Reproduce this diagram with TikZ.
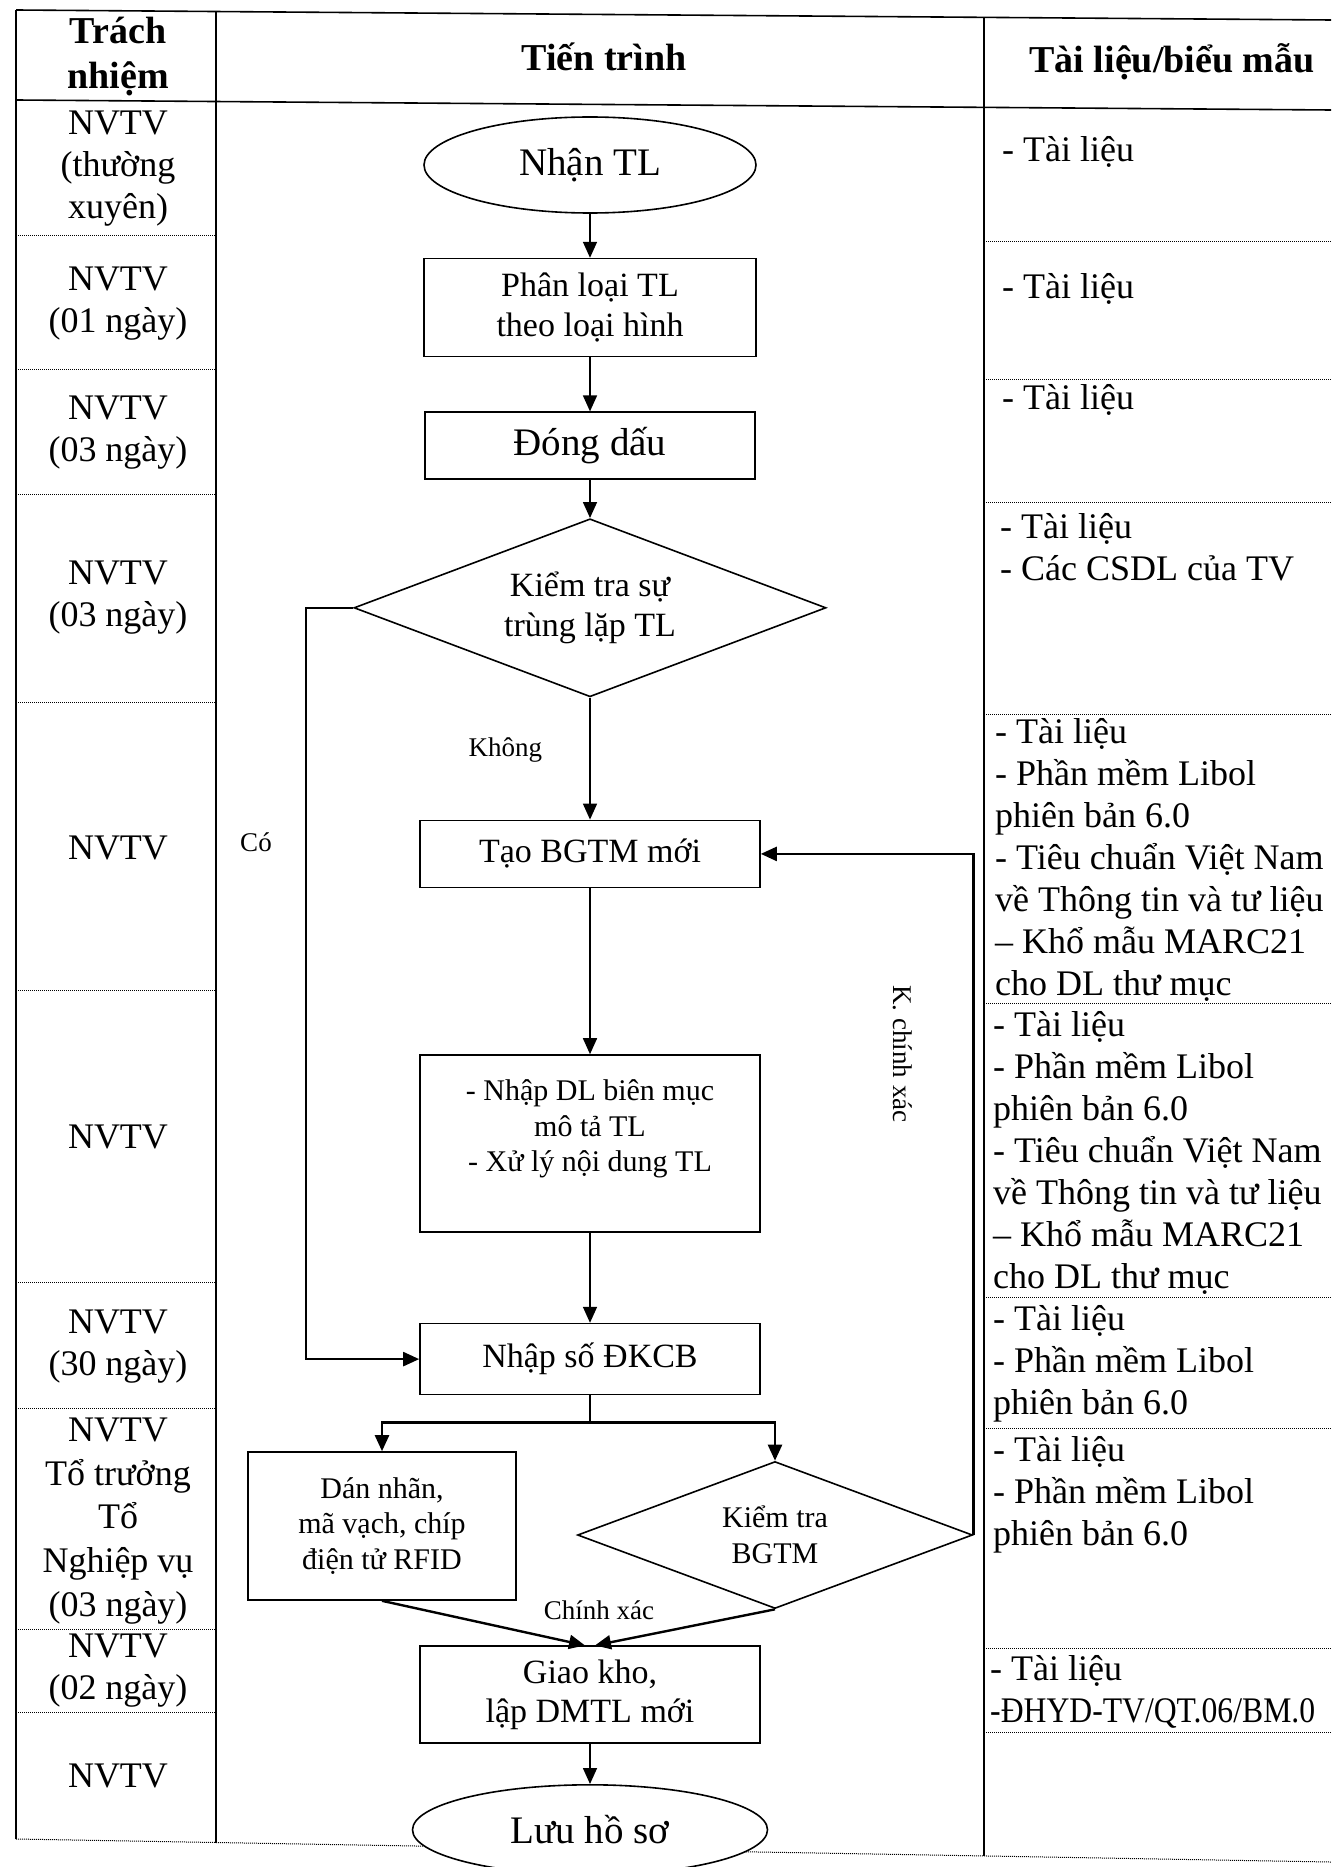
\documentclass[tikz,border=0pt]{standalone}
\usepackage{fontspec}
\setmainfont{Liberation Serif}
\newfontfamily\narrowserif[FakeStretch=0.88]{Liberation Serif}
\usetikzlibrary{shapes.geometric, arrows.meta, positioning, calc}

\tikzset{
    tablerule/.style={line width=1.6pt},
    rowrule/.style={line width=1pt, dash pattern=on 1pt off 1pt},
    flow/.style={
        -{Triangle[length=16pt, width=14pt]},
        line width=1.6pt
    },
    flowbold/.style={
        flow,
        line width=2.4pt
    }
}

\begin{document}
\begin{tikzpicture}[
    x=1pt, y=-1pt,
    every node/.style={inner sep=0pt},
    head/.style={font=\fontsize{38}{45}\selectfont\bfseries, align=center},
    duty/.style={font=\fontsize{36}{42}\selectfont, align=center},
    docs/.style={font=\fontsize{36}{42}\selectfont, align=left, anchor=west},
    terminal/.style={ellipse, draw, line width=1.6pt, fill=white, minimum width=332pt, minimum height=96pt, font=\fontsize{39}{45}\selectfont},
    stepbox/.style={rectangle, draw, line width=1.6pt, minimum width=340pt, align=center, font=\fontsize{34}{39.5}\selectfont},
    smallbox/.style={stepbox, font=\fontsize{30}{35.5}\selectfont},
    decision/.style={diamond, aspect=2.65, draw, line width=1.6pt, align=center, font=\fontsize{34}{39.5}\selectfont},
    note/.style={font=\fontsize{27}{32}\selectfont},
]
\useasboundingbox (0,0) rectangle (1331,1867);
\clip (0,0) rectangle (1331,1867);

% ====== TABLE FRAME ======
\draw[tablerule] (16,10) -- (1331,20);
\draw[tablerule] (16,100) -- (1331,110);
\draw[rowrule] (16,1839) -- (1331,1862);
\draw[tablerule] (16,10) -- (16,1839);
\draw[tablerule] (216,11.5) -- (216,1842.5);
\draw[tablerule] (984,17.4) -- (984,1856);

% --- dotted row rules ---
\foreach \y in {236,369,494,702,990,1282,1408,1629,1712}
    \draw[rowrule] (16,\y) -- (216,\y);
\foreach \y in {242,379,502,714,1003,1297,1428,1648,1732}
    \draw[rowrule] (984,\y) -- (1331,\y);

% --- headers ---
\node[head] (hduty) at (118,57) {Trách\\nhiệm};
\node[head] (hflow) at (604,57) {Tiến trình};
\node[head] (hdocs) at (1172,62) {Tài liệu/biểu mẫu};

% ====== LEFT PART: RESPONSIBILITY ======
\node[duty] (duty1) at (118,169) {NVTV\\(thường\\xuyên)};
\node[duty] (duty2) at (118,304) {NVTV\\(01 ngày)};
\node[duty] (duty3) at (118,433) {NVTV\\(03 ngày)};
\node[duty] (duty4) at (118,598) {NVTV\\(03 ngày)};
\node[duty] (duty5) at (118,848) {NVTV};
\node[duty] (duty6) at (118,1137) {NVTV};
\node[duty] (duty7) at (118,1347) {NVTV\\(30 ngày)};
\node[duty, font=\fontsize{36}{43.75}\selectfont] (duty8) at (118,1521) {NVTV\\Tổ trưởng\\Tổ\\Nghiệp vụ\\(03 ngày)};
\node[duty] (duty9) at (118,1671) {NVTV\\(02 ngày)};
\node[duty] (duty10) at (118,1776) {NVTV};

% ====== RIGHT PART: DOCUMENTS ======
\begin{scope}
\clip (984,0) rectangle (1322,1867);
\node[docs] (docs1) at (1002,152) {- Tài liệu};
\node[docs] (docs2) at (1002,289) {- Tài liệu};
\node[docs] (docs3) at (1002,400) {- Tài liệu};
\node[docs] (docs4) at (1000,547) {- Tài liệu\\- Các CSDL của TV};
\node[docs] (docs5) at (995,860) {- Tài liệu\\- Phần mềm Libol\\phiên bản 6.0\\- Tiêu chuẩn Việt Nam\\về Thông tin và tư liệu\\– Khổ mẫu MARC21\\cho DL thư mục};
\node[docs] (docs6) at (993,1153) {- Tài liệu\\- Phần mềm Libol\\phiên bản 6.0\\- Tiêu chuẩn Việt Nam\\về Thông tin và tư liệu\\– Khổ mẫu MARC21\\cho DL thư mục};
\node[docs] (docs7) at (993,1364) {- Tài liệu\\- Phần mềm Libol\\phiên bản 6.0};
\node[docs] (docs8) at (993,1495) {- Tài liệu\\- Phần mềm Libol\\phiên bản 6.0};
\node[docs] (docs9) at (990,1692) {- Tài liệu\\{\narrowserif -ĐHYD-TV/QT.06/BM.0}};
\end{scope}

% ====== MIDDLE PART: PROCESS FLOW ======
\node[terminal] (recv) at (590,165) {Nhận TL};
\node[stepbox, minimum width=332pt, minimum height=98pt, below=44pt of recv] (sort) {Phân loại TL\\theo loại hình};
\node[stepbox, minimum width=330pt, minimum height=67pt, font=\fontsize{39}{45}\selectfont, below=54pt of sort] (stamp) {Đóng dấu};
\node[decision, minimum width=472pt, minimum height=178pt, below=38pt of stamp] (dup) {Kiểm tra sự\\trùng lặp TL};
\node[stepbox, minimum height=67pt, below=122pt of dup] (newrec) {Tạo BGTM mới};
\node[smallbox, minimum height=177pt, below=166pt of newrec] (catalog) {- Nhập DL biên mục\\mô tả TL\\- Xử lý nội dung TL\\\mbox{}};
\node[stepbox, minimum height=71pt, below=90pt of catalog] (regno) {Nhập số ĐKCB};
\node[smallbox, minimum width=268pt, minimum height=148pt] (label) at (382,1526) {Dán nhãn,\\mã vạch, chíp\\điện tử RFID};
\node[decision, font=\fontsize{30}{35.5}\selectfont, minimum width=395pt, minimum height=147pt] (check) at (775,1535) {Kiểm tra\\BGTM};
\node[stepbox, minimum height=97pt, below=250pt of regno] (store) {Giao kho,\\lập DMTL mới};
\node[terminal, minimum width=355pt, minimum height=90pt, below=40pt of store] (archive) {Lưu hồ sơ};

% --- arrows ---
\draw[flow] (recv) -- (sort);
\draw[flow] (sort) -- (stamp);
\draw[flow] (stamp) -- (dup);
\draw[flow] (dup) -- node[note, pos=0.43, left=47pt] (noLabel) {Không} (newrec);
\draw[flowbold] (dup.west) -- ++(-47,0) |- (regno.west);
\node[note] (yesLabel) at (256,842) {Có};
\draw[flow] (newrec) -- (catalog);
\draw[flow] (catalog) -- (regno);

% split below regno
\draw[line width=1.6pt] (regno.south) -- ++(0,27) coordinate (split);
\draw[flowbold] (split) -| (label.north);
\draw[flowbold] (split) -| (check.north);

% feedback loop
\draw[flowbold] (check.east) |- (newrec.east);
\node[note, rotate=-90] (failLabel) at (903,1054) {K. chính xác};

% merge into store
\draw[flowbold] (label.south) -- ([xshift=-5pt]store.north);
\draw[flowbold] (check.south) -- ([xshift=5pt]store.north);
\node[note] (okLabel) at (599,1610) {Chính xác};
\draw[flow] (store) -- (archive);

\end{tikzpicture}
\end{document}
